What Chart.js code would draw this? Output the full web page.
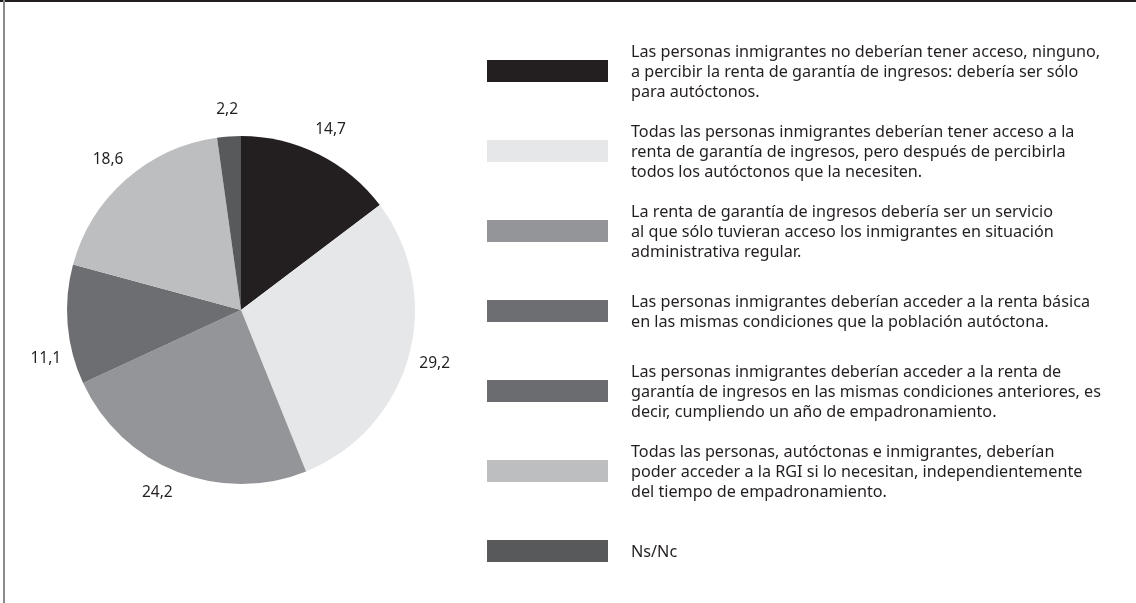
<!DOCTYPE html>
<html>
<head>
<meta charset="utf-8">
<script src="https://cdn.jsdelivr.net/npm/chart.js@4"></script>
<style>
  html, body { margin: 0; padding: 0; background: #fff; }
  #wrap { position: relative; width: 1136px; height: 603px; overflow: hidden; font-family: "Noto Sans", sans-serif; color: #231f20; }
  #frameTop { position: absolute; left: 0; top: 0; width: 1136px; height: 2px; background: #231f20; }
  #frameLeft { position: absolute; left: 3px; top: 0; width: 2px; height: 603px; background: #8a8a8a; }
  #pie { position: absolute; left: 0; top: 0; }
  #legend { position: absolute; left: 487px; top: 31px; }
  .item { display: flex; align-items: center; height: 80px; }
  .box { width: 121px; height: 22px; flex: none; }
  .txt { margin-left: 23px; font-size: 16.2px; line-height: 20px; white-space: nowrap; }
</style>
</head>
<body>
<div id="wrap">
  <div id="frameTop"></div>
  <div id="frameLeft"></div>
  <canvas id="pie" width="1136" height="603"></canvas>
  <div id="legend"></div>
</div>
<script>
// answer options, one array of lines per option
const labels = [
  ["Las personas inmigrantes no deberían tener acceso, ninguno,", "a percibir la renta de garantía de ingresos: debería ser sólo", "para autóctonos."],
  ["Todas las personas inmigrantes deberían tener acceso a la", "renta de garantía de ingresos, pero después de percibirla", "todos los autóctonos que la necesiten."],
  ["La renta de garantía de ingresos debería ser un servicio", "al que sólo tuvieran acceso los inmigrantes en situación", "administrativa regular."],
  ["Las personas inmigrantes deberían acceder a la renta básica", "en las mismas condiciones que la población autóctona."],
  ["Las personas inmigrantes deberían acceder a la renta de", "garantía de ingresos en las mismas condiciones anteriores, es", "decir, cumpliendo un año de empadronamiento."],
  ["Todas las personas, autóctonas e inmigrantes, deberían", "poder acceder a la RGI si lo necesitan, independientemente", "del tiempo de empadronamiento."],
  ["Ns/Nc"]
];
const values = [14.7, 29.2, 24.2, 11.1, 0, 18.6, 2.2];
const colors = ["#231f20", "#e6e7e8", "#939598", "#6d6e71", "#6b6c6f", "#bcbec0", "#58595b"];

// legend on the right
const legend = document.getElementById('legend');
labels.forEach((lines, i) => {
  const item = document.createElement('div');
  item.className = 'item';
  const box = document.createElement('div');
  box.className = 'box';
  box.style.background = colors[i];
  const txt = document.createElement('div');
  txt.className = 'txt';
  txt.innerHTML = lines.join('<br>');
  item.appendChild(box);
  item.appendChild(txt);
  legend.appendChild(item);
});

// value labels just outside each slice; a few are turned a little along the rim
const outsideLabels = {
  id: 'outsideLabels',
  afterDatasetsDraw(chart, args, opts) {
    const ctx = chart.ctx;
    const meta = chart.getDatasetMeta(0);
    const turn = opts.turn || {};
    ctx.save();
    ctx.font = '15.5px "Noto Sans"';
    ctx.fillStyle = '#231f20';
    ctx.textAlign = 'center';
    ctx.textBaseline = 'middle';
    meta.data.forEach((arc, i) => {
      const v = values[i];
      if (!v) return;
      const mid = (arc.startAngle + arc.endAngle) / 2 + (turn[i] || 0) * Math.PI / 180;
      const r = arc.outerRadius + 27;
      ctx.fillText(String(v).replace('.', ','), arc.x + Math.cos(mid) * r, arc.y + Math.sin(mid) * r);
    });
    ctx.restore();
  }
};

new Chart(document.getElementById('pie'), {
  type: 'pie',
  data: {
    labels: labels.map(l => l.join(' ')),
    datasets: [{
      data: values,
      backgroundColor: colors,
      borderWidth: 0
    }]
  },
  options: {
    responsive: false,
    animation: false,
    layout: { padding: { left: 67, right: 721, top: 136, bottom: 119 } },
    plugins: {
      legend: { display: false },
      tooltip: { enabled: false },
      outsideLabels: { turn: { 2: 3, 3: -9 } }
    }
  },
  plugins: [outsideLabels]
});
</script>
</body>
</html>
